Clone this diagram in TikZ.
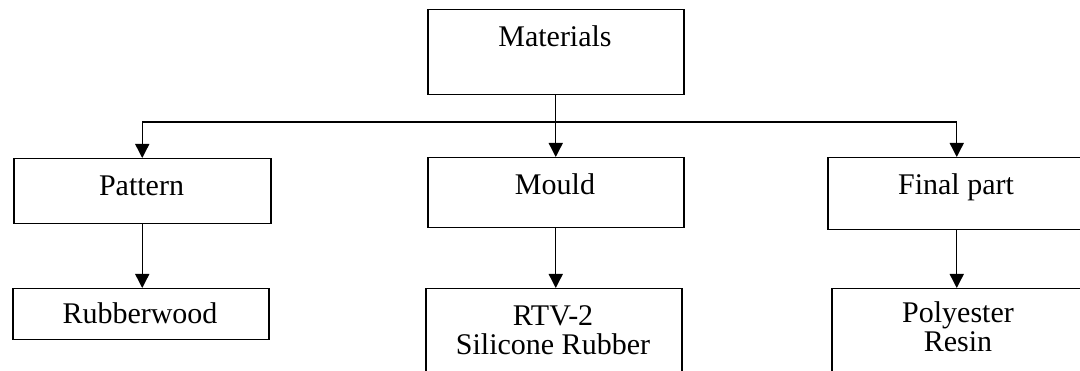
\documentclass[tikz,border=0pt]{standalone}
\usepackage{fontspec}
\setmainfont{Liberation Serif}
\usetikzlibrary{arrows.meta}

\tikzset{
  box/.style={draw, line width=1.5pt, anchor=north west, inner sep=0pt},
  txt/.style={anchor=base, inner sep=0pt, align=center,
              font=\fontsize{30}{29}\selectfont},
  link/.style={line width=1.4pt, -{Triangle[length=14pt,width=14pt]}},
  twolink/.style={line width=1.4pt,
     {Triangle[length=14pt,width=14pt]}-{Triangle[length=14pt,width=14pt]}}
}

\begin{document}
\begin{tikzpicture}[x=1pt,y=-1pt]
  \useasboundingbox (0,0) rectangle (1080,371);
  \clip (0,0) rectangle (1080,371);
  \fill[white] (0,0) rectangle (1080,371);

  % top level
  \node[box, minimum width=256pt, minimum height=85pt] (mat) at (427,9) {};
  \node[txt] (matT) at (555,47) {Materials};

  % second level
  \node[box, minimum width=257pt, minimum height=65pt] (pat) at (13,158) {};
  \node[txt] (patT) at (141.5,196) {Pattern};

  \node[box, minimum width=256pt, minimum height=70pt] (mou) at (427,157) {};
  \node[txt] (mouT) at (555,195) {Mould};

  \node[box, minimum width=258pt, minimum height=72pt] (fin) at (827,157) {};
  \node[txt] (finT) at (956,195) {Final part};

  % third level (the two-line boxes run past the bottom edge)
  \node[box, minimum width=256pt, minimum height=51pt] (rub) at (12,288) {};
  \node[txt] (rubT) at (140,324) {Rubberwood};

  \node[box, minimum width=256pt, minimum height=100pt] (rtv) at (425,288) {};
  \node[txt] (rtvT) at (553,355) {RTV-2\\Silicone Rubber};

  \node[box, minimum width=254pt, minimum height=100pt] (pol) at (831,288) {};
  \node[txt] (polT) at (958,352) {Polyester\\Resin};

  % branching line below the top box
  \coordinate (bus) at (556,122);

  % connectors
  \draw[link] (mat.south) -- (mou.north);
  \draw[twolink] (pat.north) |- (bus) -| (fin.north);
  \draw[link] (pat.south) -- (pat.south |- rub.north);
  \draw[link] (mou.south) -- (mou.south |- rtv.north);
  \draw[link] (fin.south) -- (fin.south |- pol.north);
\end{tikzpicture}
\end{document}
